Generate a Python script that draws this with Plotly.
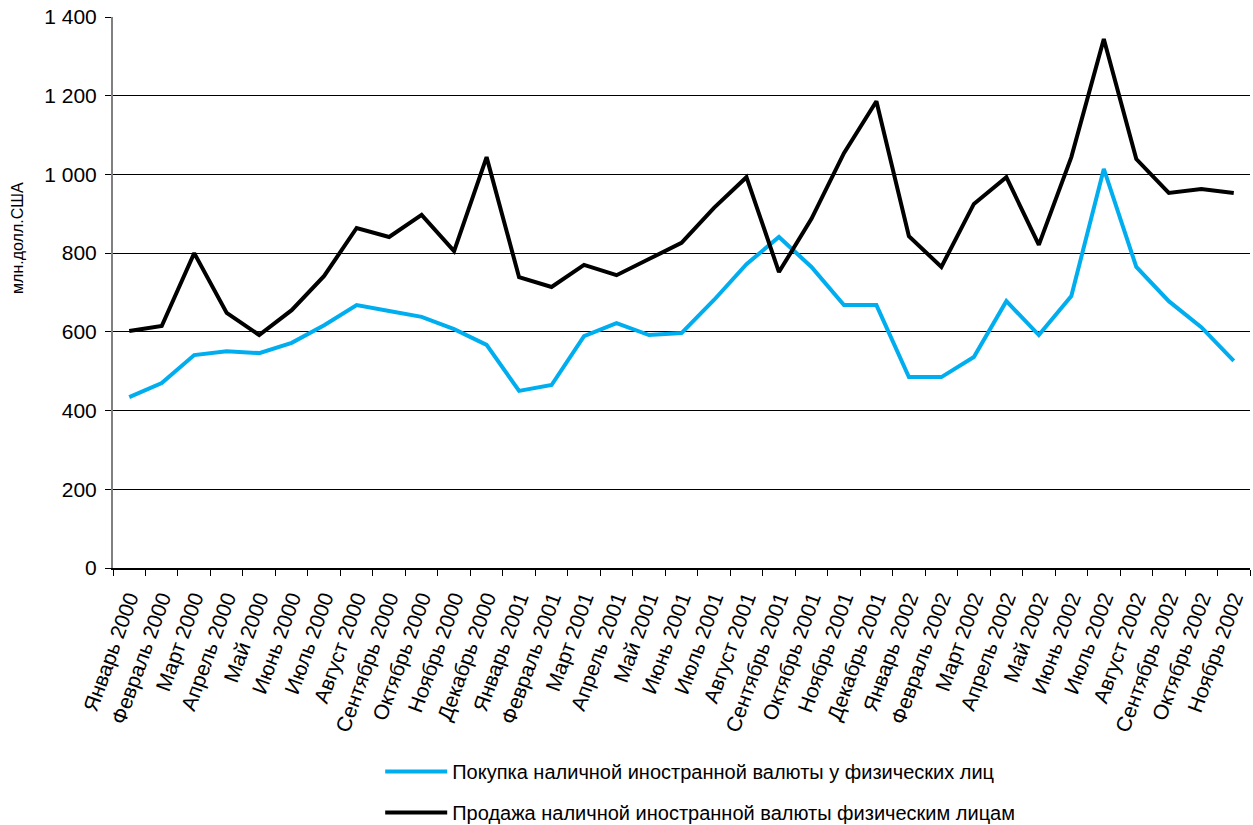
import plotly.graph_objects as go

months = ["Январь", "Февраль", "Март", "Апрель", "Май", "Июнь", "Июль",
          "Август", "Сентябрь", "Октябрь", "Ноябрь", "Декабрь"]
categories = [f"{m} {y}" for y in (2000, 2001, 2002) for m in months][:35]

buy = [434, 470, 541, 551, 546, 572, 617, 668, 653, 638, 607, 567,
       450, 465, 589, 622, 592, 597, 681, 772, 841, 765, 668, 668,
       485, 485, 536, 678, 592, 691, 1014, 765, 678, 612, 526]
sell = [602, 615, 800, 648, 592, 655, 742, 864, 841, 897, 805, 1044,
        739, 714, 770, 744, 785, 826, 915, 993, 752, 887, 1054, 1186,
        843, 765, 925, 993, 821, 1044, 1344, 1039, 953, 963, 953]

name_buy = "Покупка наличной иностранной валюты у физических лиц"
name_sell = "Продажа наличной иностранной валюты физическим лицам"

fig = go.Figure()
fig.add_trace(go.Scatter(x=categories, y=buy, mode="lines", name=name_buy,
                         legendgroup="a",
                         line=dict(color="#00AEEF", width=4)))
fig.add_trace(go.Scatter(x=categories, y=sell, mode="lines", name=name_sell,
                         legendgroup="b",
                         line=dict(color="#000000", width=4)))

fig.update_layout(
    width=1253, height=825,
    margin=dict(l=113, r=3, t=17, b=257),
    paper_bgcolor="white", plot_bgcolor="white",
    font=dict(family="Liberation Sans, Arial, sans-serif", color="black"),
    separators=". ",
    showlegend=True,
    legend=dict(x=0.235, y=0.0885, xanchor="left", yanchor="top",
                yref="container",
                font=dict(family="Liberation Sans, Arial, sans-serif", size=20),
                tracegroupgap=12, itemwidth=62, bgcolor="rgba(0,0,0,0)"),
)
fig.update_xaxes(
    type="category", range=[-0.5, 34.5], automargin=False,
    tickangle=-70, tickfont=dict(size=21), ticklabelstandoff=8,
    showline=True, linecolor="black", linewidth=1.5,
    ticks="outside", ticklen=6, tickcolor="black", tickson="boundaries",
    showgrid=False,
)
fig.update_yaxes(
    range=[0, 1400], dtick=200, tickformat=",d", automargin=False,
    tickfont=dict(size=21), ticklabelstandoff=4,
    showgrid=True, gridcolor="black", gridwidth=1,
    showline=True, linecolor="#808080", linewidth=2,
    ticks="outside", ticklen=6, tickcolor="black",
    zeroline=False,
)
fig.add_annotation(text="млн.долл.США", xref="paper", yref="paper",
                   x=-0.084, y=0.60, textangle=-90, showarrow=False,
                   font=dict(size=16), xanchor="center", yanchor="middle")

fig.write_html("out.html", config={"displayModeBar": False},
               post_script="document.body.style.margin='0';document.body.style.overflow='hidden';")
